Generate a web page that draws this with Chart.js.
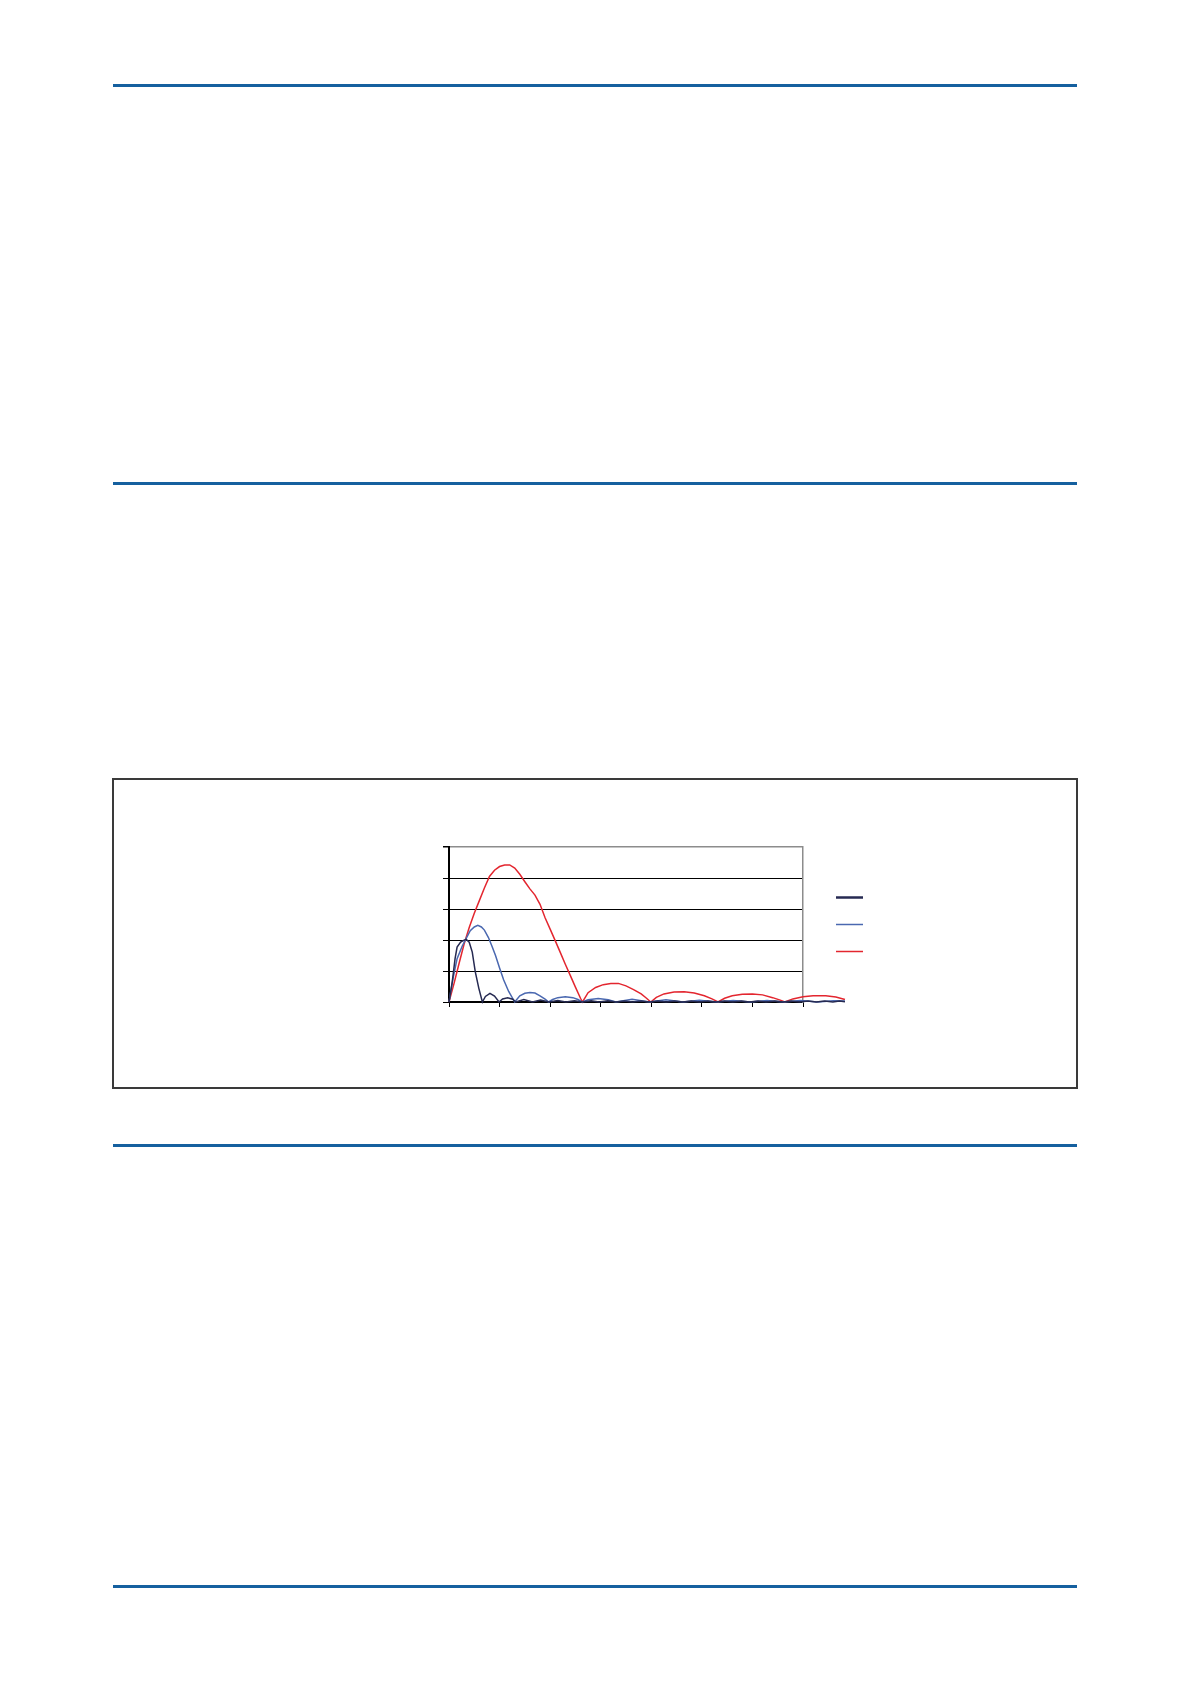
<!DOCTYPE html>
<html>
<head>
<meta charset="utf-8">
<script src="https://cdn.jsdelivr.net/npm/chart.js@4.4.1/dist/chart.umd.min.js"></script>
<style>
  html, body { margin: 0; padding: 0; background: #fff; }
  body { position: relative; width: 1191px; height: 1684px; font-family: "Liberation Sans", Arial, sans-serif; }
  .rule { position: absolute; left: 113px; width: 964px; height: 3px; background: #15609f; }
  .box { position: absolute; left: 112px; top: 778px; width: 962px; height: 307px; border: 2px solid #3a3a3a; }
  #chart { position: absolute; left: 114px; top: 780px; }
</style>
</head>
<body>
<div class="rule" style="top:84px"></div>
<div class="rule" style="top:482px"></div>
<div class="box"></div>
<canvas id="chart" width="962" height="307"></canvas>
<div class="rule" style="top:1144px"></div>
<div class="rule" style="top:1585px"></div>

<script>
// x in axis tick units (0..7, curves run a bit past the last tick), y in gridline units (0..5)
const navyX = [0, 0.065, 0.12, 0.16, 0.23, 0.29, 0.34, 0.4, 0.46, 0.52, 0.59, 0.66,
  0.72, 0.81, 0.9, 0.99, 1.06, 1.16, 1.26, 1.32, 1.48, 1.65, 1.81, 1.98, 2.15, 2.31,
  2.48, 2.64, 2.81, 2.97, 3.14, 3.3, 3.47, 3.63, 3.8, 3.96, 4.13, 4.29, 4.46, 4.62,
  4.79, 4.95, 5.12, 5.28, 5.45, 5.61, 5.78, 5.94, 6.11, 6.27, 6.44, 6.6, 6.77, 6.93,
  7.1, 7.26, 7.43, 7.59, 7.72, 7.83];
const navyY = [0, 0.66, 1.4, 1.77, 1.93, 1.99, 2.02, 1.93, 1.61, 0.97, 0.44, 0,
  0.18, 0.28, 0.19, 0, 0.1, 0.14, 0.09, 0, 0.08, 0, 0.06, 0, 0.05, 0,
  0.04, 0, 0.04, 0, 0.04, 0, 0.03, 0, 0.03, 0, 0.03, 0, 0.03, 0,
  0.03, 0, 0.03, 0, 0.03, 0, 0.03, 0, 0.03, 0, 0.03, 0, 0.03, 0,
  0.03, 0, 0.03, 0, 0.03, 0.01];

const blueX = [0, 0.08, 0.16, 0.26, 0.34, 0.42, 0.5, 0.57, 0.64, 0.7, 0.78, 0.85, 0.92,
  1.0, 1.08, 1.18, 1.3, 1.4, 1.5, 1.6, 1.7, 1.8, 1.9, 1.97, 2.05, 2.15, 2.3, 2.45, 2.55, 2.63,
  2.75, 2.95, 3.15, 3.3, 3.62, 3.96, 4.29, 4.63, 4.95, 5.29, 5.62, 5.96, 6.29, 6.62, 6.95, 7.29,
  7.6, 7.83];
const blueY = [0, 0.76, 1.4, 1.8, 2.05, 2.3, 2.42, 2.47, 2.42, 2.32, 2.08, 1.8, 1.5,
  1.1, 0.72, 0.34, 0, 0.2, 0.28, 0.31, 0.29, 0.2, 0.09, 0, 0.08, 0.14, 0.17, 0.14, 0.08, 0,
  0.07, 0.11, 0.07, 0, 0.09, 0, 0.07, 0, 0.06, 0, 0.05, 0, 0.05, 0, 0.045, 0,
  0.04, 0.03];

const redX = [0, 0.1, 0.2, 0.3, 0.4, 0.5, 0.6, 0.7, 0.8, 0.9, 1.0, 1.1, 1.2, 1.3, 1.4,
  1.5, 1.6, 1.7, 1.8, 1.9, 2.0, 2.1, 2.2, 2.3, 2.4, 2.5, 2.6, 2.64,
  2.75, 2.9, 3.05, 3.2, 3.35, 3.5, 3.65, 3.8, 3.9, 3.99,
  4.1, 4.25, 4.45, 4.65, 4.85, 5.05, 5.2, 5.32,
  5.45, 5.6, 5.8, 6.0, 6.2, 6.4, 6.55, 6.64,
  6.8, 7.0, 7.2, 7.45, 7.65, 7.83];
const redY = [0, 0.6, 1.25, 1.88, 2.4, 2.86, 3.27, 3.68, 4.05, 4.25, 4.37, 4.42, 4.42, 4.32, 4.12,
  3.88, 3.65, 3.45, 3.15, 2.72, 2.35, 1.98, 1.6, 1.22, 0.85, 0.48, 0.12, 0,
  0.3, 0.47, 0.56, 0.6, 0.6, 0.52, 0.4, 0.26, 0.13, 0,
  0.15, 0.26, 0.32, 0.33, 0.29, 0.2, 0.1, 0,
  0.12, 0.2, 0.25, 0.26, 0.23, 0.14, 0.06, 0,
  0.1, 0.17, 0.2, 0.2, 0.16, 0.08];

const xTicksMax = 7;
const yTicksMax = 5;

const toPoints = (xs, ys) => xs.map((x, i) => ({ x: x, y: ys[i] }));

// legend shows only line samples, no text
const sampleLegend = {
  id: "sampleLegend",
  afterDraw(chart) {
    const { ctx, chartArea } = chart;
    const mid = (chartArea.top + chartArea.bottom) / 2;
    chart.data.datasets.forEach((ds, i) => {
      const y = mid + (i - 1) * 27;
      ctx.save();
      ctx.strokeStyle = ds.borderColor;
      ctx.lineWidth = ds.legendWidth;
      ctx.beginPath();
      ctx.moveTo(chartArea.right + 33, y);
      ctx.lineTo(chartArea.right + 60, y);
      ctx.stroke();
      ctx.restore();
    });
  }
};

const lineStyle = {
  borderWidth: 1.5,
  pointRadius: 0,
  fill: false,
  tension: 0,
  clip: false
};

new Chart(document.getElementById("chart").getContext("2d"), {
  type: "line",
  data: {
    datasets: [
      Object.assign({ data: toPoints(navyX, navyY), borderColor: "#262a52", legendWidth: 2.5 }, lineStyle),
      Object.assign({ data: toPoints(blueX, blueY), borderColor: "#4a68b0", legendWidth: 1.5 }, lineStyle),
      Object.assign({ data: toPoints(redX, redY), borderColor: "#e3262f", legendWidth: 1.5 }, lineStyle)
    ]
  },
  options: {
    responsive: false,
    animation: false,
    events: [],
    layout: { padding: { left: 329, top: 67, right: 273, bottom: 80 } },
    plugins: { legend: { display: false }, tooltip: { enabled: false } },
    scales: {
      x: {
        type: "linear",
        afterDataLimits(scale) { scale.min = 0; scale.max = xTicksMax; },
        ticks: { display: false, stepSize: 1 },
        grid: { drawOnChartArea: false, drawTicks: true, tickLength: 5, color: "#000", lineWidth: 1 },
        border: { display: true, color: "#000", width: 1.5 }
      },
      y: {
        min: 0,
        max: yTicksMax,
        ticks: { display: false, stepSize: 1 },
        grid: {
          drawTicks: true,
          tickLength: 6,
          tickColor: "#000",
          color: c => (c.tick && c.tick.value === yTicksMax ? "#8c8c8c" : "#000"),
          lineWidth: c => (c.tick && c.tick.value === yTicksMax ? 1.5 : 1)
        },
        border: { display: true, color: "#000", width: 2 }
      },
      yRight: {
        position: "right",
        min: 0,
        max: yTicksMax,
        ticks: { display: false },
        grid: { drawOnChartArea: false, drawTicks: false },
        border: { display: true, color: "#8c8c8c", width: 1.5 }
      }
    }
  },
  plugins: [sampleLegend]
});
</script>
</body>
</html>
